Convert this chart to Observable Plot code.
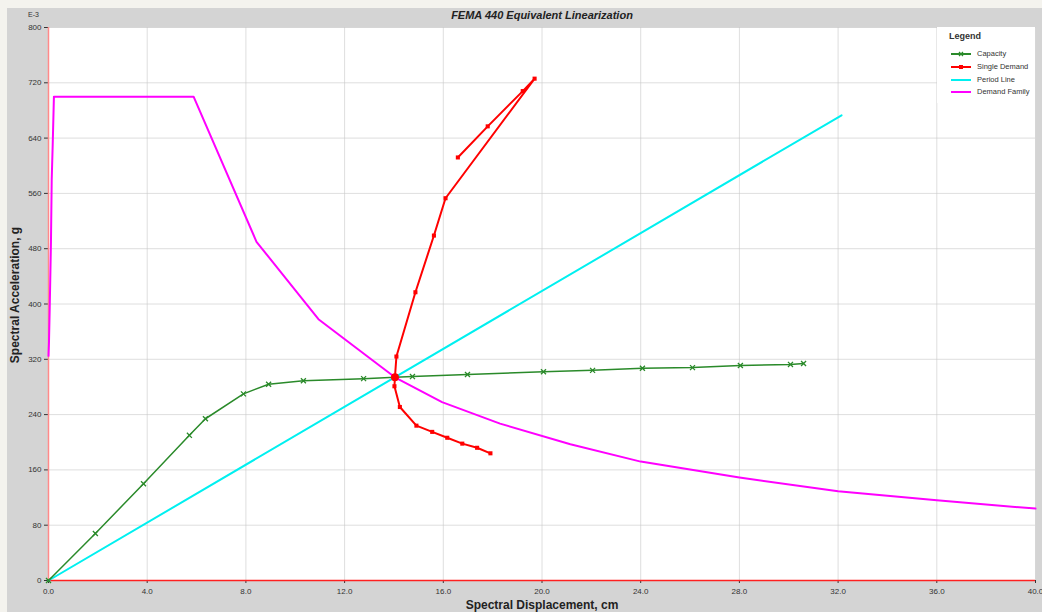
<!DOCTYPE html>
<html>
<head>
<meta charset="utf-8">
<script src="https://cdn.jsdelivr.net/npm/d3@7"></script>
<script src="https://cdn.jsdelivr.net/npm/@observablehq/plot@0.6"></script>
<style>
  html, body { margin: 0; padding: 0; }
  body { width: 1042px; height: 612px; background: #f4f3ee; position: relative; overflow: hidden; font-family: "Liberation Sans", Arial, sans-serif; }
  #panel { position: absolute; left: 7px; top: 8px; width: 1035px; height: 604px; background: #d4d4d4; }
  #chart { position: absolute; left: 0; top: 0; }
  .title { position: absolute; top: 1px; left: 0; width: 1070px; text-align: center; font-weight: bold; font-style: italic; font-size: 11px; color: #222; }
  .xlabel { position: absolute; top: 590px; left: 0; width: 1070px; text-align: center; font-weight: bold; font-size: 12px; color: #222; }
  .ylabel { position: absolute; left: 8px; top: 287px; transform: translate(-50%, -50%) rotate(-90deg); white-space: nowrap; font-weight: bold; font-size: 12px; color: #222; }
  .e3 { position: absolute; left: 21px; top: 3px; font-size: 7px; color: #333; }
  #legend { position: absolute; left: 930px; top: 19px; width: 98px; height: 76px; background: white; }
  #legend .lt { position: absolute; left: 12px; top: 4px; font-size: 9px; font-weight: bold; color: #333; }
  #legend .row { position: absolute; left: 14px; height: 10px; font-size: 7.5px; color: #333; }
  #legend .row svg { position: absolute; left: 0; top: 0; }
  #legend .row span { position: absolute; left: 26px; top: 0px; white-space: nowrap; line-height: 10px; }
</style>
</head>
<body>
<div id="panel">
  <div id="chart"></div>
  <div class="title">FEMA 440 Equivalent Linearization</div>
  <div class="e3">E-3</div>
  <div class="ylabel">Spectral Acceleration, g</div>
  <div class="xlabel">Spectral Displacement, cm</div>
  <div id="legend"><div class="lt">Legend</div></div>
</div>
<script>
// Tick values
const xTicks = [0, 4, 8, 12, 16, 20, 24, 28, 32, 36, 40];
const yTicks = [0, 80, 160, 240, 320, 400, 480, 560, 640, 720, 800];

// Capacity curve (Sd cm, Sa E-3 g)
const capacityD = [0, 1.9, 3.85, 5.71, 6.36, 7.9, 8.92, 10.33, 12.77, 14.04, 14.75, 16.98, 20.06, 22.05, 24.07, 26.1, 28.04, 30.07, 30.6];
const capacityA = [0, 68, 140, 210, 234, 270, 284, 289, 292, 294, 295, 298, 302, 304, 307, 308, 311, 312.6, 314];

// Single demand curve
const demandD = [16.59, 17.8, 19.22, 19.7, 16.09, 15.62, 14.87, 14.1, 14.04, 14.02, 14.24, 14.91, 15.55, 16.16, 16.77, 17.37, 17.91];
const demandA = [612, 657, 708, 726, 553, 499, 417, 324, 294, 281, 251, 224, 215, 206.5, 198, 192, 184];

// Performance point
const perfD = [14.04];
const perfA = [294];

// Period line
const periodD = [0, 32.14];
const periodA = [0, 673];

// Demand family
const familyD = [0, 0.02, 0.05, 0.1, 0.13, 0.17, 0.22, 5.88, 8.43, 10.94, 13.45, 14.04, 15.95, 18.3, 21.15, 24.0, 28.0, 32.0, 36.0, 40.0];
const familyA = [325, 345, 395, 490, 580, 630, 700, 700, 490, 378, 310, 294, 258, 227, 197, 172, 149, 129, 116, 104];

const legendNames = ["Capacity", "Single Demand", "Period Line", "Demand Family"];
const legendColors = ["#2a8a2a", "#ff0000", "#00f0f0", "#ff00ff"];

const zip = (xs, ys) => xs.map((x, i) => ({x, y: ys[i]}));
const capacity = zip(capacityD, capacityA);
const demand = zip(demandD, demandA);
const perf = zip(perfD, perfA);
const period = zip(periodD, periodA);
const family = zip(familyD, familyA);

const plot = Plot.plot({
  width: 1035,
  height: 604,
  marginLeft: 41,
  marginRight: 7,
  marginTop: 19,
  marginBottom: 32,
  x: {domain: [0, 40]},
  y: {domain: [0, 800]},
  style: {fontFamily: "'Liberation Sans', Arial, sans-serif", fontSize: "8px", color: "#333", background: "transparent", overflow: "visible"},
  marks: [
    Plot.frame({fill: "white", stroke: null}),
    Plot.gridX(xTicks, {stroke: "#c8c8c8", strokeOpacity: 0.6}),
    Plot.gridY(yTicks, {stroke: "#c8c8c8", strokeOpacity: 0.6}),
    Plot.axisX({ticks: xTicks, tickFormat: d => d.toFixed(1), tickSize: 3, tickPadding: 5, label: null, fontSize: 8}),
    Plot.axisY({ticks: yTicks, tickFormat: d => String(d), tickSize: 4, tickPadding: 3, label: null, fontSize: 8}),
    Plot.ruleX([0], {stroke: "#ff8a8a", strokeWidth: 1.5}),
    Plot.ruleY([0], {stroke: "#ff2020", strokeWidth: 1.5}),
    Plot.line(period, {x: "x", y: "y", stroke: legendColors[2], strokeWidth: 2}),
    Plot.line(family, {x: "x", y: "y", stroke: legendColors[3], strokeWidth: 2}),
    Plot.line(capacity, {x: "x", y: "y", stroke: legendColors[0], strokeWidth: 1.5}),
    Plot.dot(capacity, {x: "x", y: "y", symbol: "times", r: 2.4, stroke: legendColors[0], strokeWidth: 1.3}),
    Plot.line(demand, {x: "x", y: "y", stroke: legendColors[1], strokeWidth: 2}),
    Plot.dot(demand, {x: "x", y: "y", symbol: "square", r: 2.3, fill: legendColors[1], stroke: null}),
    Plot.dot(perf, {x: "x", y: "y", r: 4, fill: legendColors[1], stroke: null})
  ]
});
document.getElementById("chart").appendChild(plot);

// Legend
const legend = document.getElementById("legend");
const rowTops = [22, 35, 48, 60];
legendNames.forEach((name, i) => {
  const row = document.createElement("div");
  row.className = "row";
  row.style.top = rowTops[i] + "px";
  let marker = "";
  if (i === 0) marker = `<path d="M8,3 L12,7 M12,3 L8,7" stroke="${legendColors[i]}" stroke-width="1.2"/>`;
  if (i === 1) marker = `<rect x="8" y="3" width="4" height="4" fill="${legendColors[i]}"/>`;
  row.innerHTML = `<svg width="22" height="10"><line x1="0" y1="5" x2="20" y2="5" stroke="${legendColors[i]}" stroke-width="2"/>${marker}</svg><span>${name}</span>`;
  legend.appendChild(row);
});
</script>
</body>
</html>
